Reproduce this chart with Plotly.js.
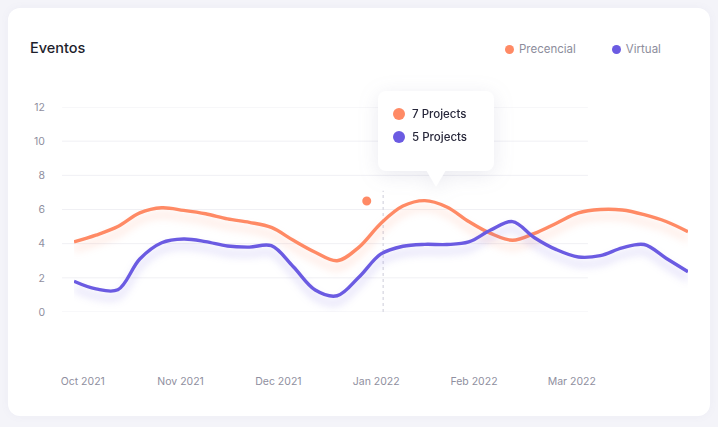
<!DOCTYPE html>
<html>
<head>
<meta charset="utf-8">
<script src="https://cdn.plot.ly/plotly-3.0.1.min.js"></script>
<style>
html,body{margin:0;padding:0;width:718px;height:427px;background:#f4f4f9;overflow:hidden;font-family:Inter,"Noto Sans",sans-serif;}
#card{position:absolute;left:8px;top:8px;width:702px;height:408px;background:#fff;border-radius:12px;box-shadow:0 0 8px rgba(120,120,170,0.06);}
#chart{position:absolute;left:0;top:0;width:718px;height:427px;}
#legend{position:absolute;top:41px;left:505px;display:flex;align-items:center;font-size:11.5px;color:#8d8d9c;line-height:16px;}
#legend .item{display:flex;align-items:center;margin-right:36px;}
#legend .dot{width:9px;height:9px;border-radius:50%;margin-right:5px;}
#tip{position:absolute;left:378px;top:91px;width:116px;height:80px;background:#fff;border-radius:8px;filter:drop-shadow(0 4px 10px rgba(90,90,140,0.13));}
#tip:after{content:"";position:absolute;left:48px;top:79px;border-left:10px solid transparent;border-right:10px solid transparent;border-top:17px solid #fff;}
#tip .row{position:absolute;left:15px;display:flex;align-items:center;font-size:11.5px;color:#27273a;font-weight:500;}
#tip .dot{width:12px;height:12px;border-radius:50%;margin-right:7px;}
.js-plotly-plot .scatterlayer .trace:nth-child(1) .js-line{filter:drop-shadow(0px 7px 4px rgba(255,138,101,0.32));}
.js-plotly-plot .scatterlayer .trace:nth-child(2) .js-line{filter:drop-shadow(0px 7px 4px rgba(108,93,224,0.32));}
</style>
</head>
<body>
<div id="card"></div>
<div id="chart"></div>
<div id="legend"></div>
<div id="tip"></div>
<script>
// ---- data ----
const seriesNames = ["Precencial", "Virtual"];
const seriesColors = ["#FF8A65", "#6B5BE2"];
const weeks = [0,1,2,3,4,5,6,7,8,9,10,11,12,13,14,15,16,17,18,19,20,21,22,23,24,25,26,27,28];
const precencial = [4.1,4.5,5.0,5.8,6.1,5.95,5.75,5.45,5.25,4.95,4.2,3.5,3.0,3.8,5.2,6.2,6.52,6.15,5.3,4.6,4.2,4.6,5.2,5.8,6.0,5.97,5.7,5.3,4.7];
const virtual_ = [1.8,1.35,1.3,3.1,4.05,4.27,4.12,3.86,3.8,3.88,2.65,1.29,0.95,2.05,3.4,3.85,3.96,3.95,4.1,4.8,5.29,4.35,3.65,3.22,3.3,3.75,3.95,3.15,2.36];
const monthLabels = ["Oct 2021","Nov 2021","Dec 2021","Jan 2022","Feb 2022","Mar 2022"];
const monthTickWeeks = [0.4,4.86,9.32,13.78,18.24,22.7];
const yTicks = [0,2,4,6,8,10,12];
const crosshairWeek = 14.1;
const hoverDot = {week: 13.35, value: 6.5};
const tooltipLabels = ["7 Projects", "5 Projects"];
const chartTitle = "Eventos";

// ---- html legend & tooltip ----
const legend = document.getElementById('legend');
seriesNames.forEach((n,i)=>{
  const it=document.createElement('div');it.className='item';
  it.innerHTML='<span class="dot" style="background:'+seriesColors[i]+'"></span><span>'+n+'</span>';
  legend.appendChild(it);
});
const tip=document.getElementById('tip');
tooltipLabels.forEach((t,i)=>{
  const r=document.createElement('div');r.className='row';r.style.top=(16+i*23)+'px';
  r.innerHTML='<span class="dot" style="background:'+seriesColors[i]+'"></span><span>'+t+'</span>';
  tip.appendChild(r);
});

// ---- plot ----
const traces = [
  {x: weeks, y: precencial, type:'scatter', mode:'lines', name: seriesNames[0],
   line:{color: seriesColors[0], width:3.4, shape:'spline', smoothing:1}, hoverinfo:'skip'},
  {x: weeks, y: virtual_, type:'scatter', mode:'lines', name: seriesNames[1],
   line:{color: seriesColors[1], width:3.4, shape:'spline', smoothing:1}, hoverinfo:'skip'},
  {x: [hoverDot.week], y: [hoverDot.value], type:'scatter', mode:'markers', cliponaxis:false,
   marker:{color: seriesColors[0], size:11, line:{color:'#fff', width:2}}, hoverinfo:'skip'}
];
const shapes = yTicks.map(v=>({type:'line', layer:'below', xref:'paper', yref:'y', x0:-0.0195, x1:0.837, y0:v, y1:v,
  line:{color:'#f0f0f4', width:1}}));
shapes.push({type:'line', layer:'below', xref:'x', yref:'y', x0:crosshairWeek, x1:crosshairWeek, y0:0, y1:7.1,
  line:{color:'#dedee6', width:1.5, dash:'dot'}});
const layout = {
  width:718, height:427,
  paper_bgcolor:'rgba(0,0,0,0)', plot_bgcolor:'rgba(0,0,0,0)',
  margin:{l:74, r:30, t:107, b:115, pad:0},
  showlegend:false,
  font:{family:'Inter, "Noto Sans", sans-serif'},
  title:{text: chartTitle, x:30/718, xref:'container', xanchor:'left', y:1-47.5/427, yref:'container', yanchor:'middle',
    font:{size:14.5, color:'#1e1e2c', family:'Inter, sans-serif', weight:500}},
  xaxis:{range:[0,28], tickvals: monthTickWeeks, ticktext: monthLabels, showgrid:false, zeroline:false, showline:false,
    ticks:'', tickfont:{size:10.5, color:'#8f8fa0'}, ticklabelstandoff:61, fixedrange:true},
  yaxis:{range:[0,12], tickvals: yTicks, showgrid:false, zeroline:false, showline:false,
    ticks:'', tickfont:{size:10.5, color:'#8f8fa0'}, ticklabelstandoff:28, fixedrange:true},
  shapes: shapes
};
Plotly.newPlot('chart', traces, layout, {displayModeBar:false, staticPlot:true});
</script>
</body>
</html>
